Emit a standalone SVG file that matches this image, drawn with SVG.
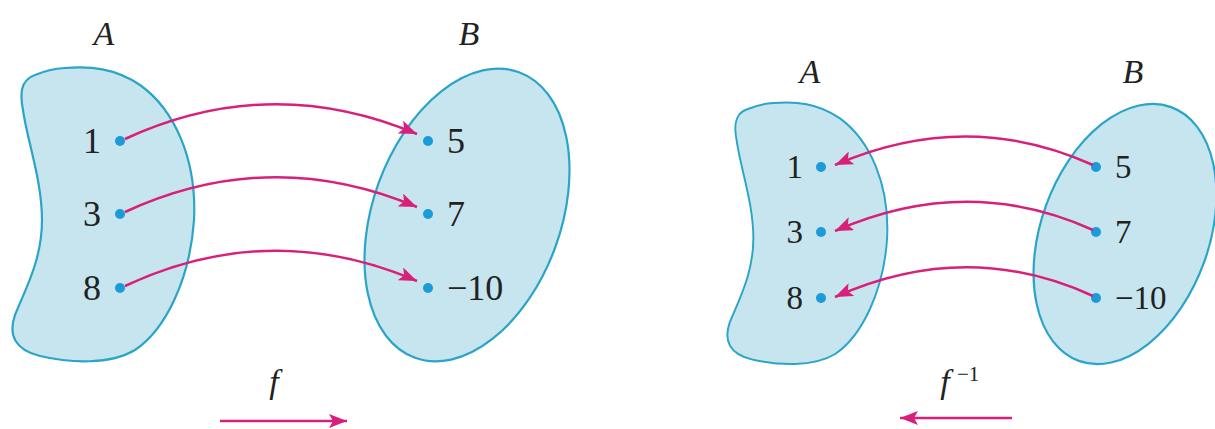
<svg xmlns="http://www.w3.org/2000/svg" width="1215" height="429" viewBox="0 0 1215 429">
<style>
.set{fill:#c7e5ef;stroke:#2aa5c8;stroke-width:2.2;vector-effect:non-scaling-stroke}
.dot{fill:#1b9bd7}
.num{font-family:'Liberation Serif','Times New Roman',Times,serif;fill:#222}
.lbl{font-family:'Liberation Serif','Times New Roman',Times,serif;font-style:italic;fill:#222;font-size:34px}
.arr{fill:none;stroke:#d8207a;stroke-width:2.5}
</style>
<defs>
<marker id="ah" markerUnits="userSpaceOnUse" markerWidth="20" markerHeight="14" refX="18" refY="7" orient="auto" viewBox="0 0 20 14">
<path d="M0,0 L18,7 L0,14 L4,7 Z" fill="#d8207a"/>
</marker>
<path id="blob" d="M35,75 C20,80 20,95 23,110 C27,140 42,180 42,220 C42,260 25,290 15,315 C8,335 15,350 40,356 C70,363 110,365 135,350 C165,330 190,280 194,220 C197,160 175,110 140,85 C115,68 90,66 65,68 C50,69 42,72 35,75 Z"/>
</defs>
<g id="left-A">
<use href="#blob" class="set"/>
<text class="lbl" x="104" y="45" text-anchor="middle">A</text>
<circle class="dot" cx="120" cy="141" r="5"/>
<circle class="dot" cx="120" cy="214" r="5"/>
<circle class="dot" cx="120" cy="288" r="5"/>
<text class="num" font-size="36" x="101" y="153" text-anchor="end">1</text>
<text class="num" font-size="36" x="101" y="226" text-anchor="end">3</text>
<text class="num" font-size="36" x="101" y="300" text-anchor="end">8</text>
</g>
<g id="left-B">
<ellipse class="set" cx="467" cy="215" rx="94" ry="152" transform="rotate(20 467 215)"/>
<text class="lbl" x="469" y="45" text-anchor="middle">B</text>
<circle class="dot" cx="428" cy="141" r="5"/>
<circle class="dot" cx="428" cy="214" r="5"/>
<circle class="dot" cx="428" cy="288" r="5"/>
<text class="num" font-size="36" x="447" y="153">5</text>
<text class="num" font-size="36" x="447" y="226">7</text>
<text class="num" font-size="36" x="447" y="300">−10</text>
</g>
<g id="right-A">
<use href="#blob" class="set" transform="matrix(0.88,0,0,0.89,716.4,42.5)"/>
<text class="lbl" x="810" y="83" font-size="32" text-anchor="middle">A</text>
<circle class="dot" cx="821" cy="167" r="5"/>
<circle class="dot" cx="821" cy="232" r="5"/>
<circle class="dot" cx="821" cy="298" r="5"/>
<text class="num" font-size="33" x="803" y="178" text-anchor="end">1</text>
<text class="num" font-size="33" x="803" y="243" text-anchor="end">3</text>
<text class="num" font-size="33" x="803" y="309" text-anchor="end">8</text>
</g>
<g id="right-B">
<ellipse class="set" cx="1125" cy="234" rx="84" ry="135" transform="rotate(20 1125 234)"/>
<text class="lbl" x="1133" y="83" font-size="32" text-anchor="middle">B</text>
<circle class="dot" cx="1096" cy="167" r="5"/>
<circle class="dot" cx="1096" cy="232" r="5"/>
<circle class="dot" cx="1096" cy="298" r="5"/>
<text class="num" font-size="33" x="1115" y="178">5</text>
<text class="num" font-size="33" x="1115" y="243">7</text>
<text class="num" font-size="33" x="1115" y="309">−10</text>
</g>
<g id="connectors">
<path class="arr" d="M125,139 Q270,72 417,134" marker-end="url(#ah)"/>
<path class="arr" d="M125,212 Q270,145 417,207" marker-end="url(#ah)"/>
<path class="arr" d="M125,286 Q270,218 417,281" marker-end="url(#ah)"/>
<path class="arr" d="M1093,165 Q967,108 835,165" marker-end="url(#ah)"/>
<path class="arr" d="M1093,230 Q967,173 835,231" marker-end="url(#ah)"/>
<path class="arr" d="M1093,296 Q967,238 835,297" marker-end="url(#ah)"/>
<path class="arr" d="M220,421 L347,421" marker-end="url(#ah)"/>
<path class="arr" d="M1012,418 L900,418" marker-end="url(#ah)"/>
</g>
<g id="labels">
<text class="lbl" x="274" y="393" text-anchor="middle">f</text>
<text class="lbl" x="945" y="393" text-anchor="middle">f</text>
<text class="num" font-size="21" x="957" y="381">−1</text>
</g>
</svg>
